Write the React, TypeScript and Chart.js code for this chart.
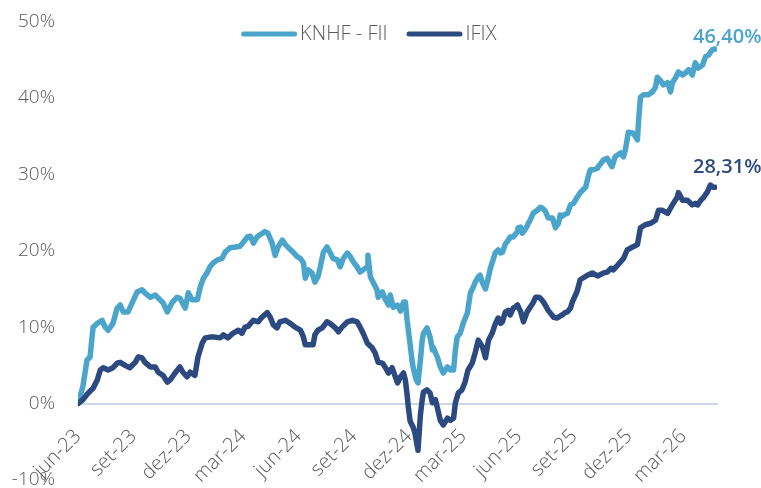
import React, { useEffect, useRef } from 'react';
import { Chart, registerables } from 'chart.js';

Chart.register(...registerables);

// ---- data ----
const seriesNames = ['KNHF - FII', 'IFIX'];
const seriesColors = ['#4BA5CB', '#2C4A80'];
const endLabels = ['46,40%', '28,31%'];

// x ticks: days since 1 Jun 2023
const tickDays = [0, 92, 183, 274, 366, 458, 549, 639, 731, 823, 914, 1004];
const tickLabels = ['jun-23', 'set-23', 'dez-23', 'mar-24', 'jun-24', 'set-24', 'dez-24', 'mar-25', 'jun-25', 'set-25', 'dez-25', 'mar-26'];

// KNHF - FII: days since 1 Jun 2023 and cumulative return (%)
const knhfDays = [0, 8, 15, 20, 25, 32, 40, 45, 50, 58, 65, 70, 75, 83, 90, 98, 106, 111, 120, 128, 136, 141, 148, 156, 164, 169, 178, 183, 189, 198, 203, 208, 214, 219, 224, 231, 239, 244, 252, 261, 269, 274, 281, 286, 291, 297, 302, 310, 315, 322, 327, 332, 339, 344, 349, 357, 364, 369, 374, 377, 382, 388, 393, 398, 402, 407, 413, 418, 423, 430, 435, 440, 447, 452, 457, 463, 468, 473, 480, 481, 485, 490, 496, 498, 505, 510, 515, 518, 523, 530, 535, 540, 543, 546, 548, 551, 554, 556, 561, 564, 568, 571, 573, 579, 584, 588, 589, 596, 601, 606, 613, 618, 623, 626, 629, 634, 639, 646, 651, 656, 659, 664, 667, 671, 676, 681, 684, 687, 692, 697, 701, 704, 709, 714, 717, 722, 729, 730, 734, 737, 739, 745, 747, 750, 755, 762, 767, 770, 775, 780, 787, 792, 797, 800, 803, 808, 812, 817, 822, 828, 833, 842, 847, 850, 855, 862, 863, 872, 878, 884, 886, 891, 900, 905, 908, 913, 920, 925, 928, 930, 933, 938, 946, 953, 958, 961, 966, 971, 978, 983, 986, 991, 996, 1003, 1008, 1013, 1019, 1024, 1029, 1036, 1041, 1046, 1052, 1057];
const knhfValues = [0, 2.2, 5.7, 6.1, 10.0, 10.5, 10.9, 10.0, 9.6, 10.5, 12.5, 12.9, 12.0, 12.0, 13.2, 14.6, 14.9, 14.5, 13.9, 14.2, 13.6, 13.2, 12.0, 13.2, 13.9, 13.8, 12.5, 14.5, 13.6, 13.6, 15.3, 16.4, 17.1, 17.9, 18.4, 18.8, 19.0, 19.8, 20.4, 20.5, 20.6, 21.1, 21.8, 21.9, 21.0, 21.8, 22.1, 22.5, 22.3, 21.0, 19.4, 20.5, 21.4, 20.8, 20.4, 19.8, 19.2, 19.0, 18.4, 16.4, 17.5, 17.1, 15.9, 16.6, 17.9, 19.8, 20.5, 19.8, 19.0, 18.8, 17.9, 19.0, 19.7, 19.2, 18.5, 17.9, 17.2, 17.5, 17.9, 19.4, 16.6, 15.8, 14.9, 13.9, 14.6, 13.6, 12.9, 14.2, 12.6, 12.9, 12.1, 13.3, 13.3, 10.9, 9.6, 7.7, 5.7, 4.7, 3.1, 2.7, 5.7, 8.3, 9.2, 9.9, 8.7, 7.0, 7.4, 6.1, 4.8, 4.0, 4.8, 4.4, 4.4, 7.0, 8.7, 9.2, 10.5, 11.9, 14.5, 15.3, 15.9, 16.6, 16.8, 15.8, 15.0, 16.6, 17.7, 18.4, 19.7, 20.1, 19.7, 19.8, 20.9, 21.4, 21.8, 21.8, 22.5, 23.0, 23.1, 22.3, 22.5, 23.2, 23.6, 24.0, 24.9, 25.3, 25.7, 25.6, 25.2, 24.3, 24.3, 23.0, 23.6, 24.7, 24.5, 24.8, 24.9, 26.0, 26.2, 27.0, 27.6, 28.3, 29.9, 30.6, 30.6, 30.8, 31.0, 31.9, 32.1, 31.2, 31.0, 32.3, 32.8, 32.3, 33.2, 35.5, 35.4, 34.9, 34.5, 37.1, 40.1, 40.4, 40.4, 40.8, 41.4, 42.7, 42.3, 41.7, 42.0, 40.8, 42.0, 42.6, 43.4, 43.0, 43.3, 43.7, 43.0, 44.6, 43.9, 44.3, 45.4, 45.6, 46.3, 46.4];

// IFIX: days since 1 Jun 2023 and cumulative return (%)
const ifixDays = [0, 8, 17, 25, 32, 37, 42, 50, 58, 65, 70, 78, 86, 95, 100, 106, 111, 120, 128, 133, 141, 148, 153, 161, 169, 174, 181, 186, 194, 199, 206, 211, 219, 227, 236, 241, 249, 257, 266, 272, 277, 282, 291, 299, 305, 314, 319, 324, 330, 335, 344, 352, 360, 369, 374, 377, 385, 390, 393, 398, 405, 413, 418, 427, 432, 438, 447, 455, 463, 468, 473, 480, 488, 493, 498, 505, 510, 515, 521, 530, 535, 540, 543, 546, 548, 551, 556, 559, 563, 564, 568, 571, 573, 579, 584, 588, 593, 596, 601, 606, 613, 618, 623, 626, 631, 637, 642, 647, 654, 659, 664, 671, 676, 681, 687, 692, 697, 701, 704, 709, 714, 717, 722, 725, 729, 734, 739, 745, 755, 759, 764, 767, 772, 775, 780, 789, 795, 803, 808, 812, 817, 820, 828, 833, 845, 853, 862, 872, 878, 884, 888, 895, 905, 911, 920, 928, 933, 941, 950, 958, 963, 969, 978, 986, 994, 996, 1003, 1011, 1019, 1024, 1028, 1033, 1038, 1044, 1049, 1054, 1057];
const ifixValues = [0, 0.5, 1.4, 2.0, 3.1, 4.4, 4.7, 4.4, 4.7, 5.3, 5.4, 5.0, 4.7, 5.4, 6.1, 6.0, 5.4, 4.8, 4.8, 4.1, 3.7, 2.8, 3.1, 4.0, 4.8, 4.1, 3.5, 4.1, 3.7, 6.1, 7.9, 8.6, 8.7, 8.7, 8.6, 9.0, 8.6, 9.2, 9.6, 9.2, 10.0, 10.1, 10.9, 10.7, 11.3, 11.9, 11.3, 10.3, 9.9, 10.7, 10.9, 10.5, 10.0, 9.6, 8.7, 7.7, 7.7, 7.7, 9.0, 9.6, 9.9, 10.7, 10.5, 9.9, 9.4, 10.0, 10.7, 10.9, 10.7, 10.0, 9.2, 7.9, 7.3, 6.6, 5.4, 5.3, 4.7, 4.0, 4.7, 2.7, 3.5, 4.0, 3.1, 1.1, -0.5, -2.3, -3.1, -3.9, -5.7, -6.1, -1.5, 0.5, 1.5, 1.8, 1.4, 0.1, 0.5, -0.5, -2.2, -2.8, -1.9, -2.2, -1.9, 0.1, 1.4, 1.8, 2.8, 4.4, 5.3, 6.7, 8.3, 7.4, 6.0, 8.3, 9.2, 10.4, 11.2, 10.5, 10.7, 12.0, 12.2, 11.6, 12.5, 12.6, 12.9, 12.1, 10.7, 12.0, 13.2, 13.9, 13.9, 13.8, 13.3, 12.9, 12.2, 11.3, 11.2, 11.6, 11.9, 12.0, 12.5, 13.3, 14.7, 16.2, 16.8, 17.1, 16.7, 17.1, 17.2, 17.7, 17.5, 18.1, 19.0, 20.1, 20.5, 20.8, 23.0, 23.4, 23.6, 24.0, 25.3, 25.3, 24.9, 26.0, 27.0, 27.6, 26.6, 26.6, 26.0, 26.2, 26.0, 26.6, 27.0, 27.7, 28.6, 28.3, 28.31];

const yMin = -10;
const yMax = 50;
const yStep = 10;

// ---- styling ----
const FONT = '"Open Sans", "DejaVu Sans", sans-serif';
const TEXT_COLOR = '#595959';
const AXIS_LINE_COLOR = '#CDD6EA';
const endLabelRise = [6, 14];

const legendPlugin = {
  id: 'lineLegend',
  afterDraw(chart: any) {
    const ctx = chart.ctx;
    const lineLen = 51;
    const gapText = 5.5;
    const gapItems = 21.5;
    const y = 34;
    ctx.save();
    ctx.font = `300 20px ${FONT}`;
    const items = chart.data.datasets.map((ds: any) => ({
      label: ds.label,
      color: ds.borderColor,
      w: ctx.measureText(ds.label).width,
    }));
    const total = items.reduce((s: number, it: any) => s + lineLen + gapText + it.w, 0) + gapItems * (items.length - 1);
    let x = 370 - total / 2;
    items.forEach((it: any) => {
      ctx.strokeStyle = it.color;
      ctx.lineWidth = 5;
      ctx.lineCap = 'round';
      ctx.beginPath();
      ctx.moveTo(x, y);
      ctx.lineTo(x + lineLen, y);
      ctx.stroke();
      ctx.fillStyle = TEXT_COLOR;
      ctx.textAlign = 'left';
      ctx.textBaseline = 'middle';
      ctx.fillText(it.label, x + lineLen + gapText, y);
      x += lineLen + gapText + it.w + gapItems;
    });
    ctx.restore();
  },
};

const endLabelPlugin = {
  id: 'endLabels',
  afterDatasetsDraw(chart: any) {
    const ctx = chart.ctx;
    ctx.save();
    ctx.font = `600 20px ${FONT}`;
    ctx.textAlign = 'center';
    ctx.textBaseline = 'alphabetic';
    chart.data.datasets.forEach((ds: any, i: number) => {
      const meta = chart.getDatasetMeta(i);
      const pt = meta.data[meta.data.length - 1];
      if (!pt) return;
      ctx.fillStyle = ds.borderColor;
      ctx.fillText(endLabels[i], pt.x + 12, pt.y - endLabelRise[i]);
    });
    ctx.restore();
  },
};

export default function App() {
  const ref = useRef<HTMLCanvasElement>(null);

  useEffect(() => {
    if (!ref.current) return;
    const series = [
      { days: knhfDays, values: knhfValues },
      { days: ifixDays, values: ifixValues },
    ];
    const chart = new Chart(ref.current, {
      type: 'line',
      data: {
        datasets: series.map((s, i) => ({
          label: seriesNames[i],
          data: s.days.map((d, k) => ({ x: d, y: s.values[k] })),
          borderColor: seriesColors[i],
          backgroundColor: seriesColors[i],
          borderWidth: 5.5,
          pointRadius: 0,
          tension: 0,
          borderCapStyle: 'round',
          borderJoinStyle: 'round',
          fill: false,
          order: i === 0 ? 1 : 0,
        })),
      },
      options: {
        animation: false,
        responsive: true,
        maintainAspectRatio: false,
        layout: { padding: { left: 0, right: 44, top: 21.5, bottom: 8 } },
        plugins: {
          legend: { display: false },
          tooltip: { enabled: false },
        },
        scales: {
          x: {
            type: 'linear',
            position: { y: 0 } as any,
            min: 0,
            max: 1060,
            grid: { display: false, drawTicks: false },
            border: { display: true, color: AXIS_LINE_COLOR, width: 2 },
            afterBuildTicks: (scale: any) => {
              scale.ticks = tickDays.map((v) => ({ value: v }));
            },
            ticks: {
              autoSkip: false,
              minRotation: 45,
              maxRotation: 45,
              padding: 21,
              color: TEXT_COLOR,
              font: { family: FONT, size: 20, weight: '300' },
              callback: (v: any) => {
                const idx = tickDays.indexOf(Number(v));
                return idx >= 0 ? tickLabels[idx] : '';
              },
            },
          },
          y: {
            min: yMin,
            max: yMax,
            grid: { display: false, drawTicks: false },
            border: { display: false },
            ticks: {
              stepSize: yStep,
              padding: 23,
              color: TEXT_COLOR,
              font: { family: FONT, size: 19, weight: '300' },
              callback: (v: any) => `${v}%`,
            },
            afterFit: (scale: any) => {
              scale.width = 78;
              scale.paddingTop = 0;
              scale.paddingBottom = 0;
            },
          },
        },
      },
      plugins: [legendPlugin, endLabelPlugin],
    } as any);
    return () => chart.destroy();
  }, []);

  return (
    <div style={{ position: 'fixed', left: 0, top: 0, width: 761, height: 488, background: '#ffffff' }}>
      <canvas ref={ref} />
    </div>
  );
}
